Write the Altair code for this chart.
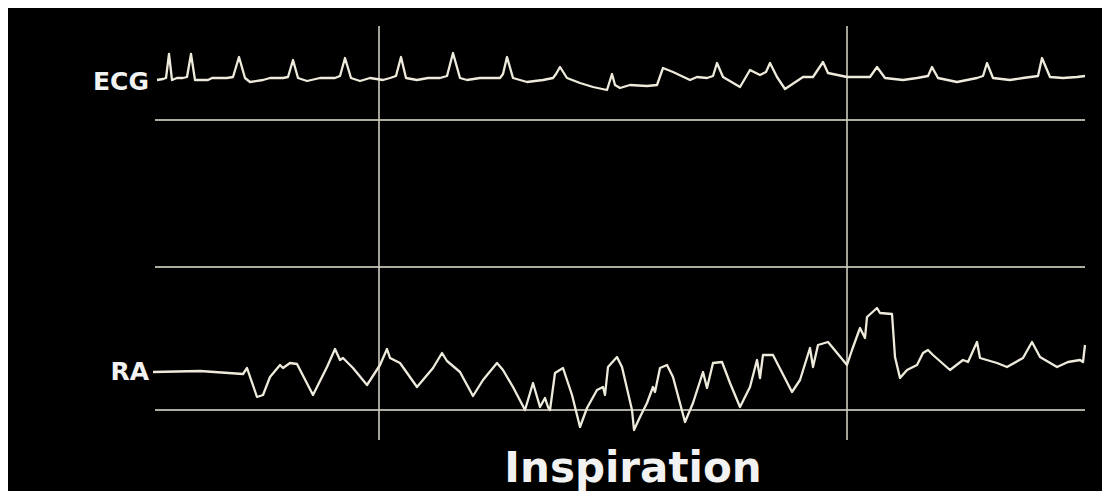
import altair as alt
import pandas as pd

# ECG trace (time in screen units, level in screen units, downward)
ecg_t = [157, 163, 166, 169, 172, 177, 183, 187, 191, 195, 208, 212, 227, 233, 239, 245, 250, 263, 270, 283,
         288, 293, 298, 307, 320, 335, 340, 345, 351, 360, 370, 383, 390, 396, 401, 406, 417, 428, 440, 447,
         453, 460, 467, 480, 500, 503, 507, 513, 527, 543, 553, 556, 560, 567, 580, 593, 607, 612, 615, 620,
         630, 647, 657, 663, 673, 690, 697, 707, 713, 717, 723, 740, 750, 760, 766, 770, 777, 785, 803, 813,
         823, 828, 847, 870, 877, 885, 903, 917, 928, 932, 938, 957, 977, 983, 987, 993, 1010, 1023, 1038, 1042,
         1050, 1063, 1077, 1085]
ecg_v = [80, 79, 78, 54, 80, 78, 78, 77, 54, 80, 80, 78, 78, 77, 57, 78, 82, 80, 78, 78,
         77, 60, 78, 81, 78, 78, 76, 58, 78, 81, 78, 80, 78, 76, 57, 78, 80, 78, 78, 76,
         53, 78, 80, 78, 78, 74, 57, 78, 82, 80, 78, 74, 67, 78, 83, 87, 90, 74, 85, 88,
         85, 86, 85, 68, 72, 80, 77, 78, 76, 63, 77, 87, 70, 75, 72, 63, 77, 89, 77, 77,
         62, 73, 77, 77, 67, 78, 80, 78, 76, 67, 78, 82, 78, 76, 63, 78, 80, 78, 76, 58,
         77, 78, 77, 76]

# Right atrial pressure trace
ra_t = [153, 200, 243, 247, 257, 263, 270, 280, 283, 290, 297, 313, 327, 335, 340, 343, 353, 367, 380, 387,
        390, 400, 417, 433, 442, 447, 460, 473, 483, 497, 503, 513, 525, 533, 540, 545, 548, 550, 555, 563,
        572, 580, 587, 597, 603, 605, 608, 617, 622, 632, 634, 640, 647, 653, 655, 660, 667, 673, 685, 693,
        703, 707, 713, 722, 730, 740, 750, 757, 760, 763, 773, 792, 800, 810, 813, 818, 828, 847, 852, 860,
        865, 867, 877, 880, 892, 895, 900, 907, 917, 923, 928, 933, 950, 963, 968, 977, 980, 997, 1007, 1023,
        1032, 1040, 1057, 1068, 1080, 1083, 1085]
ra_v = [372, 371, 374, 368, 397, 395, 377, 365, 368, 363, 364, 395, 367, 349, 360, 358, 368, 385, 365, 349,
        358, 363, 387, 368, 353, 361, 372, 396, 380, 363, 370, 387, 410, 383, 407, 398, 407, 410, 373, 368,
        395, 427, 408, 390, 387, 395, 367, 357, 367, 410, 430, 417, 403, 387, 392, 368, 365, 377, 422, 403,
        372, 388, 363, 362, 383, 407, 387, 360, 378, 355, 355, 392, 380, 348, 367, 345, 342, 365, 350, 328,
        338, 317, 308, 313, 314, 357, 378, 370, 365, 353, 350, 355, 370, 360, 362, 342, 358, 363, 367, 358,
        342, 357, 367, 362, 360, 362, 345]

# Reference lines
h_levels = [120, 267, 410]
h_start = [155, 155, 155]
h_end = [1085, 1085, 1085]
v_times = [379, 847]
v_top = [26, 26]
v_bottom = [440, 440]

# Labels
trace_labels = ["ECG", "RA"]
trace_label_t = [149, 149]
trace_label_v = [90, 380]
title_text = ["Inspiration"]
title_t = [633]
title_v = [482]

xs = alt.Scale(domain=[8, 1102], nice=False, zero=False)
ys = alt.Scale(domain=[8, 491], reverse=True, nice=False, zero=False)

ecg_df = pd.DataFrame({"t": ecg_t, "v": ecg_v})
ra_df = pd.DataFrame({"t": ra_t, "v": ra_v})
h_df = pd.DataFrame({"v": h_levels, "t1": h_start, "t2": h_end})
v_df = pd.DataFrame({"t": v_times, "v1": v_top, "v2": v_bottom})
lab_df = pd.DataFrame({"label": trace_labels, "t": trace_label_t, "v": trace_label_v})
tit_df = pd.DataFrame({"label": title_text, "t": title_t, "v": title_v})

line_color = "#efebdc"

hrules = alt.Chart(h_df).mark_rule(color="#e9e5d4", strokeWidth=1.6).encode(
    x=alt.X("t1:Q", scale=xs, axis=None), x2="t2:Q",
    y=alt.Y("v:Q", scale=ys, axis=None))
vrules = alt.Chart(v_df).mark_rule(color="#cfcbbd", strokeWidth=1.6).encode(
    x=alt.X("t:Q", scale=xs, axis=None),
    y=alt.Y("v1:Q", scale=ys, axis=None), y2="v2:Q")
ecg = alt.Chart(ecg_df).mark_line(color=line_color, strokeWidth=2.3, strokeJoin="round").encode(
    x=alt.X("t:Q", scale=xs, axis=None), y=alt.Y("v:Q", scale=ys, axis=None))
ra = alt.Chart(ra_df).mark_line(color=line_color, strokeWidth=2.3, strokeJoin="round").encode(
    x=alt.X("t:Q", scale=xs, axis=None), y=alt.Y("v:Q", scale=ys, axis=None))
labels = alt.Chart(lab_df).mark_text(
    color="#f2f2f2", font="DejaVu Sans", fontWeight="bold", fontSize=25,
    align="right", baseline="alphabetic").encode(
    x=alt.X("t:Q", scale=xs, axis=None), y=alt.Y("v:Q", scale=ys, axis=None), text="label:N")
title = alt.Chart(tit_df).mark_text(
    color="#f2f2f2", font="DejaVu Sans", fontWeight="bold", fontSize=42,
    align="center", baseline="alphabetic").encode(
    x=alt.X("t:Q", scale=xs, axis=None), y=alt.Y("v:Q", scale=ys, axis=None), text="label:N")

chart = alt.layer(hrules, vrules, ecg, ra, labels, title).properties(
    width=1094, height=483, padding=0, background="#000000",
    autosize=alt.AutoSizeParams(type="none"),
).configure_view(stroke=None)

chart.save("out.html", embed_options={"renderer": "svg", "actions": False})
